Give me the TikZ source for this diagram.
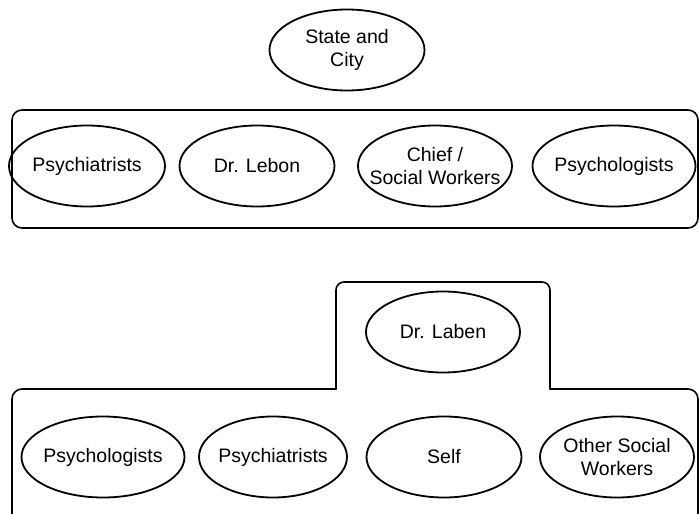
\documentclass[tikz,border=0pt]{standalone}
\usepackage{fontspec}
\setmainfont{Liberation Sans}
\usetikzlibrary{shapes.geometric}
\begin{document}
\begin{tikzpicture}[x=1pt, y=-1pt, line join=round, line cap=round]
			\tikzset{oval/.style={draw, ellipse, line width=1.8pt, inner ysep=0pt, inner xsep=-30pt, minimum height=81pt, align=center, font=\fontsize{19.5}{23.5}\selectfont},
				grp/.style={line width=1.6pt, rounded corners=10pt}}
			\useasboundingbox (0,0) rectangle (699,514);
			\clip (0,0) rectangle (699,514);
			\node[oval, minimum width=155pt] (statecity) at (347,50) {State and\\City};
			\draw[grp] (12,110) rectangle (698,228);
			\foreach \x/\w/\n/\t in {87/156/tpsychiatrists/Psychiatrists, 257/155/lebon/Dr. Lebon, 435/154/chief/{Chief /\\Social Workers}, 614/163/tpsychologists/Psychologists}
				\node[oval, minimum width=\w pt] (\n) at (\x,166) {\t};
			\draw[grp] (12,530) |- (336,389);
			\draw[grp, rounded corners=8pt] (336,389) |- (443,282) -| (550,389);
			\draw[grp] (550,389) -| (698,530);
			\node[oval, minimum width=154pt] (laben) at (443,332) {Dr. Laben};
			\foreach \x/\w/\n/\t in {103/163/bpsychologists/Psychologists, 273/148/bpsychiatrists/Psychiatrists, 444/155/self/Self, 617/154/others/{Other Social\\Workers}}
				\node[oval, minimum width=\w pt] (\n) at (\x,457) {\t};
		\end{tikzpicture}
\end{document}
